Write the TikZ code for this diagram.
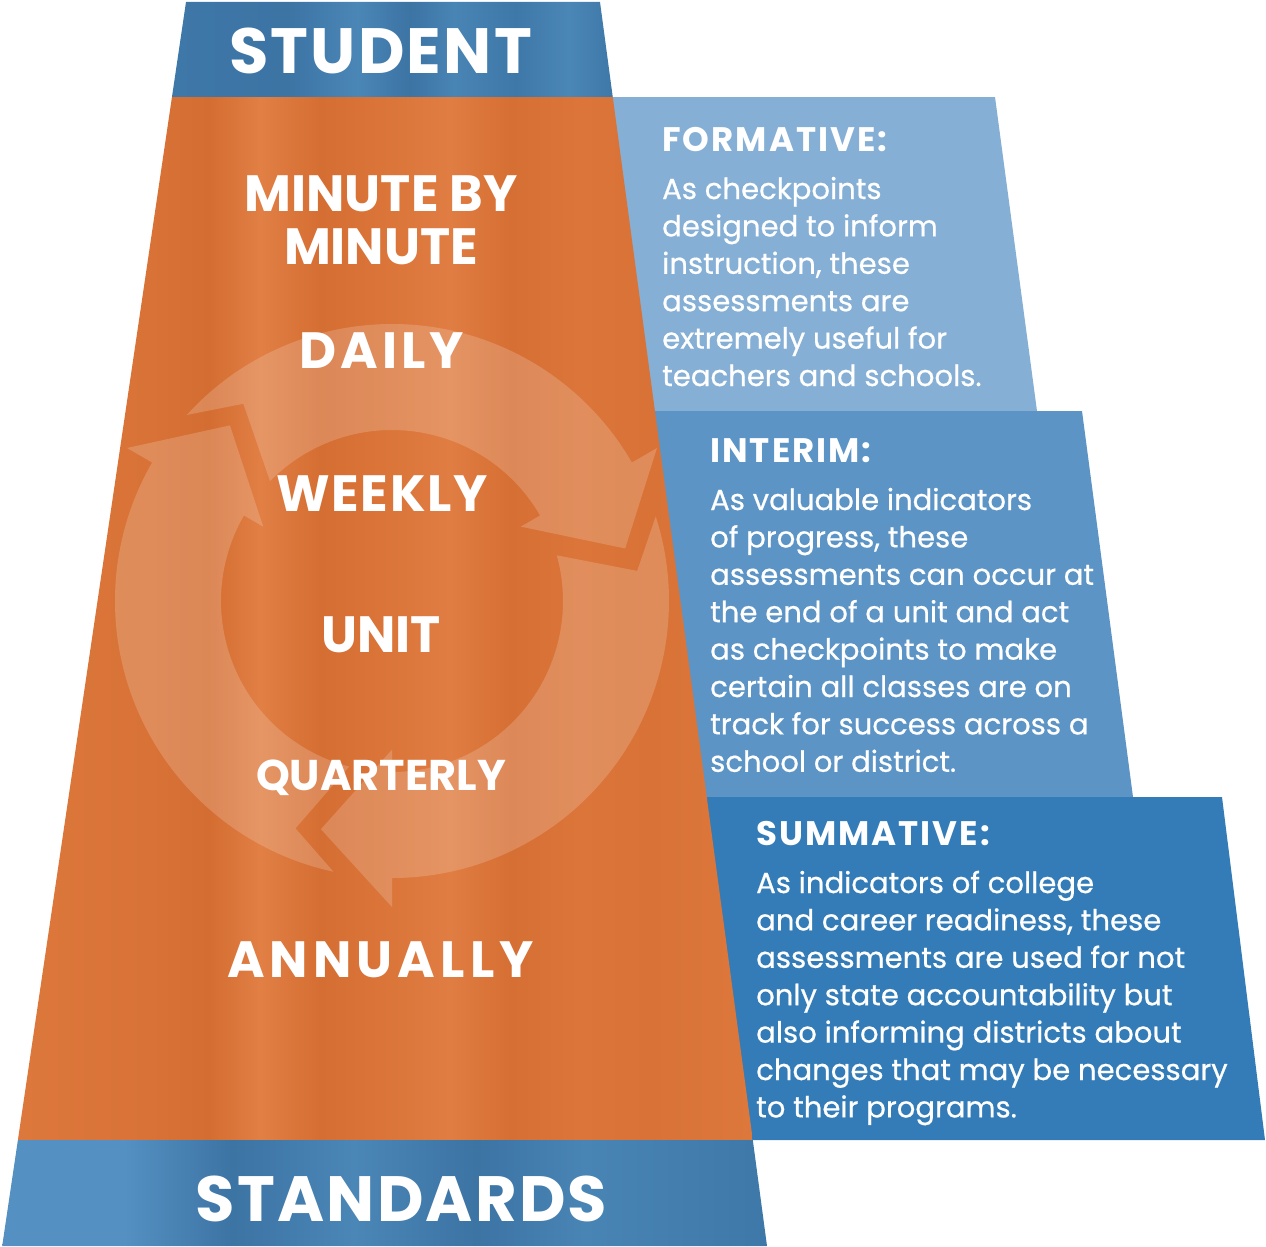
\documentclass[tikz,border=0pt]{standalone}
\usepackage{fontspec}
\setmainfont{Poppins}
\newfontfamily\bodyfont{Poppins}[FakeBold=0.6]

% palette
\definecolor{formblue}{RGB}{133,175,213}
\definecolor{interblue}{RGB}{92,148,197}
\definecolor{sumblue}{RGB}{52,124,183}
% orange texture stops
\definecolor{oA}{RGB}{221,120,60}
\definecolor{oB}{RGB}{216,114,54}
\definecolor{oC}{RGB}{212,109,50}
\definecolor{oD}{RGB}{225,127,68}
\definecolor{oE}{RGB}{213,110,51}
\definecolor{oF}{RGB}{218,116,57}
\definecolor{oG}{RGB}{224,125,66}
\definecolor{oH}{RGB}{214,111,52}
\definecolor{oI}{RGB}{219,117,58}
% blue band texture stops
\definecolor{bA}{RGB}{84,144,194}
\definecolor{bB}{RGB}{62,120,168}
\definecolor{bC}{RGB}{74,134,182}
\definecolor{bD}{RGB}{60,116,164}
\definecolor{bE}{RGB}{72,132,180}

\pgfdeclarehorizontalshading{orangeshade}{100bp}{%
  color(0bp)=(oA); color(25bp)=(oA); color(34bp)=(oB); color(38bp)=(oC);
  color(41.5bp)=(oD); color(45.6bp)=(oE); color(49.6bp)=(oF);
  color(54.4bp)=(oG); color(58.5bp)=(oH); color(63.2bp)=(oI);
  color(68bp)=(oB); color(75bp)=(oA); color(100bp)=(oA)}
\pgfdeclarehorizontalshading{topbandshade}{100bp}{%
  color(0bp)=(bB); color(25bp)=(bB); color(38bp)=(bD); color(46bp)=(bC);
  color(52bp)=(bD); color(57bp)=(bE); color(64bp)=(bB); color(70bp)=(bC);
  color(75bp)=(bB); color(100bp)=(bB)}
\pgfdeclarehorizontalshading{bottombandshade}{100bp}{%
  color(0bp)=(bA); color(25bp)=(bA); color(33bp)=(bA); color(40bp)=(bD);
  color(48bp)=(bC); color(56bp)=(bD); color(63bp)=(bE); color(75bp)=(bB);
  color(100bp)=(bB)}

% several text lines on one baseline grid; the box baseline is the first line
\newcommand{\paralines}[1]{\vtop{\baselineskip=37.4pt\lineskip=0pt\lineskiplimit=-100pt
  \halign{##\hfil\cr#1\crcr}}}
% bold caps at a given size and tracking
\newcommand{\capsfont}[2]{\bfseries\fontsize{#1}{#1}\selectfont\addfontfeatures{LetterSpace=#2}}

\begin{document}
\begin{tikzpicture}[x=1pt,y=-1pt,
  title/.style={text=white,font=\capsfont{64}{3.5},inner sep=0pt,anchor=base},
  level/.style={text=white,font=\capsfont{51}{0},inner sep=0pt,anchor=base},
  head/.style={text=white,font=\capsfont{34}{6},inner sep=0pt,anchor=base west},
  body/.style={text=white,font=\bodyfont\fontsize{29.1}{37.4}\selectfont,inner sep=0pt,anchor=base west},
  ringpart/.style={fill=white,fill opacity=0.18}]
\useasboundingbox (0,0) rectangle (1266,1247);

% assessment panels, stepping out to the right
\fill[formblue]  (600,97)  -- (995,97)   -- (1037,411) -- (600,411) -- cycle;
\fill[interblue] (640,411) -- (1082,411) -- (1133,797) -- (640,797) -- cycle;
\fill[sumblue]   (690,797) -- (1222,797) -- (1265,1140) -- (690,1140) -- cycle;

% the tapered column: student band, orange body, standards band
\shade[shading=topbandshade] (186,2) -- (600,2) -- (612.75,97) -- (171.96,97) -- cycle;
\shade[shading=orangeshade] (171.96,97) -- (612.75,97) -- (752.8,1140) -- (17.9,1140) -- cycle;
\shade[shading=bottombandshade] (17.9,1140) -- (752.8,1140) -- (767,1246) -- (2.2,1246) -- cycle;

% cycle of three curved arrows
\begin{scope}
  \clip (171.96,97) -- (612.75,97) -- (752.8,1140) -- (17.9,1140) -- cycle;
  \foreach \rot in {0,120,240}{
    \begin{scope}[shift={(392,601)}, rotate=\rot]
      \fill[ringpart] (137.8:277pt) arc[start angle=137.8, end angle=30, radius=277pt]
        -- (30:306pt) -- (12.7:239pt) -- (30:148.7pt) -- (30:171pt)
        arc[start angle=30, end angle=135.5, radius=171pt]
        -- (127:247pt) -- cycle;
    \end{scope}}
\end{scope}

% column labels
\node[title] (student) at (380.5,74) {STUDENT};
\node[level] (minby) at (381,211) {MINUTE BY};
\node[level] (minute) at (381,264) {MINUTE};
\node[level,font=\capsfont{51}{8.2}] (daily) at (381.5,368) {DAILY};
\node[level,font=\capsfont{51}{3.3}] (weekly) at (382,511) {WEEKLY};
\node[level] (unit) at (381,652) {UNIT};
\node[level,font=\capsfont{43}{0}] (quarterly) at (381,790) {QUARTERLY};
\node[level,font=\capsfont{51}{10}] (annually) at (380.5,977) {ANNUALLY};
\node[title] (standards) at (401.5,1221) {STANDARDS};

% panel texts
\node[head] (formhead) at (662,151) {FORMATIVE:};
\node[body] (formtext) at (662,199) {\paralines{%
  As checkpoints\cr
  designed to inform\cr
  instruction, these\cr
  assessments are\cr
  extremely useful for\cr
  teachers and schools.}};

\node[head] (interhead) at (710,462) {INTERIM:};
\node[body] (intertext) at (710,510) {\paralines{%
  As valuable indicators\cr
  of progress, these\cr
  assessments can occur at\cr
  the end of a unit and act\cr
  as checkpoints to make\cr
  certain all classes are on\cr
  track for success across a\cr
  school or district.}};

\node[head] (sumhead) at (756,845) {SUMMATIVE:};
\node[body] (sumtext) at (756,893) {\paralines{%
  As indicators of college\cr
  and career readiness, these\cr
  assessments are used for not\cr
  only state accountability but\cr
  also informing districts about\cr
  changes that may be necessary\cr
  to their programs.}};
\end{tikzpicture}
\end{document}
